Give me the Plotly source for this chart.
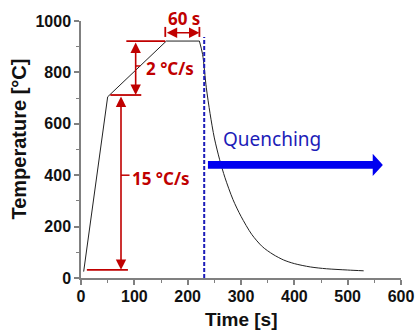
import plotly.graph_objects as go

# ---- data ----
heat_time = [5, 50, 160, 222]
heat_temp = [25, 705, 922, 922]

cool_time = [222, 228, 235, 242, 250, 260, 270, 285, 300, 320, 340, 360, 380, 400, 430, 460, 500, 530]
cool_temp = [922, 870, 740, 640, 545, 460, 390, 305, 240, 170, 122, 92, 70, 56, 43, 36, 31, 28]

x_ticks = [0, 100, 200, 300, 400, 500, 600]
y_ticks = [0, 200, 400, 600, 800, 1000]

quench_time = 231
RED = "#c00000"
BLUE = "#0000f0"
DBLUE = "#1c1cb8"

fig = go.Figure()
fig.add_trace(go.Scatter(x=heat_time, y=heat_temp, mode="lines",
                         line=dict(color="#222222", width=1), showlegend=False))
fig.add_trace(go.Scatter(x=cool_time, y=cool_temp, mode="lines",
                         line=dict(color="#222222", width=1, shape="spline", smoothing=0.8),
                         showlegend=False))

# quench dashed line
fig.add_shape(type="line", x0=quench_time, x1=quench_time, y0=0, y1=938,
              line=dict(color=DBLUE, width=2, dash="4px,2px"))

# red guide lines
fig.add_shape(type="line", x0=85, x1=158, y0=922, y1=922, line=dict(color=RED, width=1.8))
fig.add_shape(type="line", x0=55, x1=113, y0=712, y1=712, line=dict(color=RED, width=1.8))
fig.add_shape(type="line", x0=11, x1=88, y0=32, y1=32, line=dict(color=RED, width=1.8))
# 60 s bars
fig.add_shape(type="line", x0=158, x1=158, y0=938, y1=977, line=dict(color=RED, width=1.8))
fig.add_shape(type="line", x0=222, x1=222, y0=938, y1=977, line=dict(color=RED, width=1.8))
# leader dashes
fig.add_shape(type="line", x0=102, x1=111, y0=825, y1=825, line=dict(color=RED, width=1.5))
fig.add_shape(type="line", x0=75, x1=91, y0=400, y1=400, line=dict(color=RED, width=1.5))

def darrow(x0, y0, x1, y1):
    fig.add_annotation(x=x1, y=y1, ax=x0, ay=y0, xref="x", yref="y", axref="x", ayref="y",
                       text="", showarrow=True, arrowhead=2, arrowside="end+start",
                       arrowsize=1.3, arrowwidth=1.6, arrowcolor=RED, standoff=0, startstandoff=0)

darrow(102.5, 922, 102.5, 712)
darrow(75, 712, 75, 32)
darrow(158, 954, 222, 954)

# texts
lab_font = dict(family="Noto Sans", size=17, color=RED)
fig.add_annotation(x=119, y=817, text="<b>2 °C/s</b>", showarrow=False, xanchor="left", font=lab_font)
fig.add_annotation(x=91.5, y=389, text="<b>15 °C/s</b>", showarrow=False, xanchor="left", font=lab_font)
fig.add_annotation(x=193, xref="x", y=1.01, yref="paper", yanchor="middle", text="<b>60 s</b>",
                   showarrow=False, font=lab_font)
fig.add_annotation(x=358, y=540, text="Quenching", showarrow=False,
                   font=dict(family="Noto Sans", size=19, color=DBLUE))

# blue arrow
fig.add_shape(type="path",
              path="M 238 425 L 547 425 L 547 397 L 566 440 L 547 483 L 547 455 L 238 455 Z",
              fillcolor=BLUE, line=dict(width=0))

# axis titles
fig.add_annotation(x=0.5, xref="paper", y=-0.163, yref="paper", yanchor="middle",
                   text="<b>Time [s]</b>", showarrow=False,
                   font=dict(family="Arial", size=19, color="#111111"))
fig.add_annotation(x=-0.195, xref="paper", y=0.541, yref="paper", xanchor="center", yanchor="middle",
                   textangle=-90, text="<b>Temperature [°C]</b>", showarrow=False,
                   font=dict(family="Arial", size=20, color="#111111"))

axis_font = dict(family="Arial", size=16, color="#111111")
common = dict(showgrid=False, zeroline=False, showline=True, linecolor="#808080", linewidth=1.5,
              ticks="outside", ticklen=5, tickwidth=1.5, tickcolor="#808080",
              tickfont=axis_font, automargin=False)
fig.update_layout(
    width=415, height=334,
    margin=dict(l=81, r=14, t=21, b=56),
    paper_bgcolor="white", plot_bgcolor="white",
    xaxis=dict(range=[0, 600], tickvals=x_ticks, ticktext=[f"<b>{v}</b>" for v in x_ticks],
               minor=dict(ticks="outside", ticklen=3, tickwidth=1.2, tickcolor="#808080", dtick=50),
               ticklabelstandoff=-2, **common),
    yaxis=dict(range=[0, 1000], tickvals=y_ticks, ticktext=[f"<b>{v}</b>" for v in y_ticks],
               minor=dict(ticks="outside", ticklen=3, tickwidth=1.2, tickcolor="#808080", dtick=100),
               **common),
)
fig.write_html("out.html", config={"displayModeBar": False},
               post_script="document.body.style.margin='0';")
